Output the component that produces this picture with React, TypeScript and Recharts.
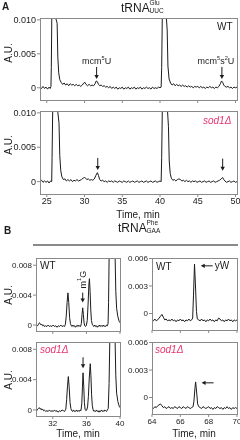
import React from 'react';
import { LineChart, Line, XAxis, YAxis, ReferenceDot } from 'recharts';

type Pt = [number, number];

// absorbance kept in A.U. x 1e-4 (so 50 = 0.005 A.U.), time in min
const gluTimeTicks = [25, 30, 35, 40, 45, 50];
const gluAuTicks = [0, 50, 100];
const pheTimeTicks = [32, 36, 40];
const pheAuTicks = [0, 40, 80];
const ywTimeTicks = [64, 66, 68, 70];
const ywAuTicks = [0, 30, 60];

// A, tRNA Glu UUC, wild type
const gluWT: Pt[] = [
  [24.1, 1], [24.3, -1], [24.5, 2], [24.7, -1], [24.9, 1], [25.1, -2], [25.3, 1], [25.45, -1], [25.55, 2],
  [25.6, 30], [25.66, 160], [25.9, 420], [26.2, 320], [26.37, 95], [26.46, 45], [26.58, 22], [26.72, 12],
  [26.9, 8], [27.1, 5], [27.3, 7], [27.5, 4], [27.7, 6], [27.9, 3], [28.1, 6], [28.3, 4], [28.5, 5], [28.7, 3],
  [28.9, 5], [29.1, 3], [29.3, 4], [29.5, 2], [29.7, 4], [29.9, 7], [30.05, 8], [30.2, 5], [30.4, 3], [30.6, 5],
  [30.8, 3], [31.0, 4], [31.2, 3], [31.4, 6], [31.55, 10], [31.7, 9], [31.85, 5], [32.0, 3], [32.2, 4], [32.4, 2],
  [32.6, 3], [32.8, 1], [33.0, 2], [33.2, 0], [33.4, 2], [33.6, -1], [33.8, 1], [34.0, -1], [34.2, 1], [34.4, -2],
  [34.6, 0], [34.8, -1], [35.0, 1], [35.2, -2], [35.4, 0], [35.6, -1], [35.8, 1], [36.0, -2], [36.2, 0], [36.4, -1],
  [36.6, 1], [36.8, -2], [37.0, 0], [37.2, -1], [37.4, 1], [37.6, -2], [37.8, 0], [38.0, -1], [38.2, 1], [38.4, -1],
  [38.6, 0], [38.8, -2], [39.0, 1], [39.2, -1], [39.4, 0], [39.6, -1], [39.8, 1], [40.0, 0], [40.15, 1],
  [40.22, 30], [40.3, 160], [40.6, 500], [40.85, 260], [40.95, 85], [41.05, 32], [41.2, 13], [41.4, 7],
  [41.6, 4], [41.8, 6], [42.0, 3], [42.2, 5], [42.4, 3], [42.6, 4], [42.8, 2], [43.0, 4], [43.2, 2], [43.4, 3],
  [43.6, 1], [43.8, 3], [44.0, 1], [44.2, 2], [44.4, 0], [44.6, 2], [44.8, 1], [45.0, 2], [45.2, 0], [45.4, 2],
  [45.6, 0], [45.8, 1], [46.0, -1], [46.2, 1], [46.4, 0], [46.6, 2], [46.8, 0], [47.0, 1], [47.2, -1], [47.4, 1],
  [47.6, 0], [47.8, 2], [48.0, 6], [48.15, 10], [48.3, 8], [48.45, 4], [48.6, 2], [48.8, 1], [49.0, 2], [49.2, 0],
  [49.4, 1], [49.6, -1], [49.8, 1], [50.0, 0], [50.2, 1],
];

// A, tRNA Glu UUC, sod1 deletion
const gluSod1: Pt[] = [
  [24.1, 0], [24.3, 2], [24.5, -1], [24.7, 1], [24.9, -1], [25.1, 1], [25.3, -2], [25.5, 1], [25.65, 0],
  [25.7, 35], [25.78, 160], [26.1, 450], [26.45, 300], [26.62, 85], [26.72, 38], [26.85, 16], [27.0, 7],
  [27.2, 3], [27.4, 4], [27.6, 1], [27.8, 3], [28.0, 1], [28.2, 3], [28.4, 0], [28.6, 2], [28.8, 1], [29.0, 3],
  [29.2, 1], [29.4, 2], [29.6, 3], [29.8, 5], [30.0, 6], [30.15, 5], [30.3, 3], [30.5, 4], [30.7, 2], [30.9, 3],
  [31.1, 2], [31.3, 4], [31.5, 9], [31.7, 13], [31.85, 9], [32.0, 3], [32.2, 1], [32.4, 2], [32.6, 0], [32.8, 1],
  [33.0, -1], [33.2, 1], [33.4, 0], [33.6, 1], [33.8, -1], [34.0, 1], [34.2, 0], [34.4, -1], [34.6, 1], [34.8, 0],
  [35.0, -1], [35.2, 1], [35.4, 0], [35.6, -1], [35.8, 1], [36.0, -1], [36.2, 0], [36.4, 1], [36.6, -1], [36.8, 0],
  [37.0, 1], [37.2, -1], [37.4, 0], [37.6, 1], [37.8, -1], [38.0, 0], [38.2, 1], [38.4, -1], [38.6, 0], [38.8, 1],
  [39.0, -1], [39.2, 0], [39.4, 1], [39.6, -1], [39.8, 0], [40.0, 1], [40.15, 0],
  [40.22, 35], [40.3, 160], [40.7, 500], [41.0, 250], [41.12, 80], [41.22, 30], [41.35, 12], [41.5, 5],
  [41.7, 2], [41.9, 3], [42.1, 1], [42.3, 3], [42.5, 4], [42.7, 3], [42.9, 1], [43.1, 2], [43.3, 0], [43.5, 2],
  [43.7, 0], [43.9, 1], [44.1, -1], [44.3, 1], [44.5, 0], [44.7, 1], [44.9, -1], [45.1, 0], [45.3, 1], [45.5, -1],
  [45.7, 0], [45.9, 1], [46.1, -1], [46.3, 0], [46.5, 1], [46.7, -1], [46.9, 0], [47.1, 1], [47.3, -1], [47.5, 0],
  [47.7, 1], [47.9, 2], [48.1, 4], [48.3, 6], [48.45, 3], [48.6, 1], [48.8, -1], [49.0, 0], [49.2, 1], [49.4, -1],
  [49.6, 0], [49.8, 1], [50.0, -1], [50.2, 0],
];

// B, tRNA Phe GAA, m1G window
const pheWT: Pt[] = [
  [30.0, -1], [30.1, 0], [30.2, -1], [30.3, 1], [30.4, 3], [30.5, 2], [30.6, 0], [30.7, 1], [30.8, -1], [30.9, 0],
  [31.0, -2], [31.15, -1], [31.3, -2], [31.45, 0], [31.6, -2], [31.75, -1], [31.9, -2], [32.05, 0], [32.2, -2],
  [32.35, -1], [32.5, -3], [32.65, -1], [32.8, -2], [32.95, 0], [33.1, -2], [33.25, -1], [33.4, -2], [33.5, 1],
  [33.6, 12], [33.7, 30], [33.8, 43], [33.9, 30], [34.0, 10], [34.1, 2], [34.2, -1], [34.3, -2], [34.4, 0],
  [34.5, -2], [34.6, -1], [34.7, -3], [34.8, -1], [34.9, -2], [35.0, 0], [35.1, -2], [35.2, -1], [35.3, -2],
  [35.4, 2], [35.48, 14], [35.56, 23], [35.64, 14], [35.72, 3], [35.8, -1], [35.9, -2], [36.0, 0], [36.1, 6],
  [36.2, 28], [36.3, 55], [36.36, 62], [36.44, 45], [36.52, 20], [36.6, 6], [36.7, 1], [36.8, -1], [36.9, -2],
  [37.0, 0], [37.1, -2], [37.2, -1], [37.3, -3], [37.4, -1], [37.5, -2], [37.6, 0], [37.7, -2], [37.8, -1],
  [37.9, -2], [38.0, 0], [38.1, -2], [38.2, -1], [38.3, -2], [38.4, 0], [38.5, -1], [38.58, 2], [38.64, 30],
  [38.7, 120], [39.0, 300], [39.3, 200], [39.42, 90], [39.5, 45], [39.6, 22], [39.75, 11], [39.9, 5], [40.0, 3],
];

const pheSod1: Pt[] = [
  [30.0, 0], [30.1, -1], [30.2, 1], [30.3, 2], [30.4, 3], [30.5, 1], [30.6, 2], [30.7, 0], [30.8, 1], [30.9, -1],
  [31.0, 0], [31.15, -2], [31.3, -1], [31.45, -2], [31.6, 0], [31.75, -2], [31.9, -1], [32.05, -2], [32.2, 0],
  [32.35, -2], [32.5, -1], [32.65, -3], [32.8, -1], [32.95, -2], [33.1, 0], [33.25, -1], [33.4, -2], [33.55, 1],
  [33.65, 14], [33.75, 32], [33.85, 44], [33.95, 30], [34.05, 10], [34.15, 2], [34.25, -1], [34.35, -2],
  [34.45, 0], [34.55, -2], [34.65, -1], [34.75, -2], [34.85, 0], [34.95, -2], [35.05, -1], [35.15, -2],
  [35.25, 0], [35.35, -1], [35.45, 8], [35.53, 30], [35.6, 49], [35.68, 32], [35.76, 10], [35.84, 1],
  [35.94, -1], [36.04, 0], [36.14, 4], [36.24, 18], [36.34, 42], [36.46, 61], [36.54, 45], [36.62, 20],
  [36.7, 6], [36.8, 0], [36.9, -2], [37.0, -1], [37.1, -2], [37.2, 0], [37.3, -2], [37.4, -1], [37.5, -3],
  [37.6, -1], [37.7, -2], [37.8, 0], [37.9, -2], [38.0, -1], [38.1, -2], [38.2, 0], [38.3, -1], [38.4, -2],
  [38.5, 0], [38.6, 2], [38.7, 35], [38.78, 130], [39.05, 300], [39.3, 200], [39.42, 90], [39.5, 45],
  [39.6, 22], [39.75, 11], [39.9, 5], [40.0, 3],
];

// B, tRNA Phe GAA, yW window
const ywWT: Pt[] = [
  [64.0, -7], [64.1, -8], [64.2, -6], [64.3, -8], [64.4, -7], [64.5, -5], [64.6, -3], [64.7, -1], [64.8, -4],
  [64.9, -7], [65.0, -6], [65.1, -8], [65.2, -7], [65.3, -8], [65.4, -6], [65.5, -8], [65.6, -7], [65.7, -9],
  [65.8, -7], [65.9, -8], [66.0, -6], [66.1, -8], [66.2, -7], [66.3, -9], [66.4, -7], [66.5, -8], [66.6, -6],
  [66.7, -8], [66.8, -7], [66.87, -5], [66.93, 20], [67.0, 54], [67.07, 30], [67.14, 2], [67.2, -6], [67.3, -7],
  [67.4, -8], [67.5, -6], [67.6, -8], [67.7, -7], [67.8, -9], [67.9, -7], [68.0, -8], [68.1, -6], [68.2, -8],
  [68.3, -7], [68.4, -9], [68.5, -7], [68.6, -8], [68.7, -5], [68.8, -6], [68.9, -8], [69.0, -7], [69.1, -9],
  [69.2, -7], [69.3, -8], [69.4, -6], [69.5, -8], [69.6, -7], [69.7, -9], [69.8, -7], [69.9, -8], [70.0, -7],
];

const ywSod1: Pt[] = [
  [64.0, -11], [64.1, -12], [64.2, -10], [64.3, -11], [64.4, -9], [64.5, -8], [64.6, -7], [64.7, -9], [64.8, -11],
  [64.9, -10], [65.0, -12], [65.1, -11], [65.2, -10], [65.3, -12], [65.4, -11], [65.5, -12], [65.6, -10],
  [65.7, -11], [65.8, -12], [65.9, -10], [66.0, -11], [66.1, -12], [66.2, -10], [66.3, -11], [66.4, -12],
  [66.5, -10], [66.6, -11], [66.7, -12], [66.8, -11], [66.9, -10], [66.96, -4], [67.03, 10], [67.08, 17],
  [67.15, 6], [67.22, -7], [67.3, -10], [67.4, -11], [67.5, -12], [67.6, -10], [67.7, -11], [67.8, -12],
  [67.9, -11], [68.0, -10], [68.1, -12], [68.2, -11], [68.3, -13], [68.4, -11], [68.5, -12], [68.6, -10],
  [68.7, -11], [68.8, -12], [68.9, -11], [69.0, -13], [69.1, -11], [69.2, -12], [69.3, -10], [69.4, -12],
  [69.5, -11], [69.6, -13], [69.7, -11], [69.8, -12], [69.9, -11], [70.0, -12],
];

const PINK = '#e8336d';
const INK = '#1b1b1b';
const FRAME = '#8a8a8a';

type Part = [string, boolean];

function supText(parts: Part[], size: number) {
  let up = false;
  return parts.map(([s, sup], i) => {
    const dy = sup && !up ? -size * 0.4 : !sup && up ? size * 0.4 : 0;
    up = sup;
    return (
      <tspan key={i} dy={dy} fontSize={sup ? size * 0.62 : size}>
        {s}
      </tspan>
    );
  });
}

function DownArrow({ cx, cy, parts, dx = 0, rotated = false, len = 12 }: any) {
  return (
    <g>
      <line x1={cx} y1={cy - len} x2={cx} y2={cy - 3} stroke={INK} strokeWidth={1} />
      <path d={`M${cx - 2.2},${cy - 4} L${cx + 2.2},${cy - 4} L${cx},${cy} Z`} fill={INK} />
      {parts && !rotated && (
        <text x={cx + dx} y={cy - len - 3} textAnchor="middle" fontSize={9} fill={INK}>
          {supText(parts, 9)}
        </text>
      )}
      {parts && rotated && (
        <text
          x={cx}
          y={cy - len - 13}
          transform={`rotate(-90 ${cx} ${cy - len - 13})`}
          textAnchor="middle"
          dominantBaseline="central"
          fontSize={9}
          fill={INK}
        >
          {supText(parts, 9)}
        </text>
      )}
    </g>
  );
}

function LeftArrow({ cx, cy, text }: any) {
  return (
    <g>
      <line x1={cx + 3} y1={cy} x2={cx + 12} y2={cy} stroke={INK} strokeWidth={1} />
      <path d={`M${cx + 4},${cy - 2.2} L${cx + 4},${cy + 2.2} L${cx},${cy} Z`} fill={INK} />
      {text && (
        <text x={cx + 14} y={cy} dominantBaseline="central" fontSize={10} fill={INK}>
          {text}
        </text>
      )}
    </g>
  );
}

const fmtAu = (v: number) => (v === 0 ? '0' : (v / 10000).toFixed(3));

interface TraceProps {
  pts: Pt[];
  left: number;
  top: number;
  width: number;
  height: number;
  mt: number;
  mr: number;
  yw: number;
  xh: number;
  xDomain: [number, number];
  yDomain: [number, number];
  xTicks: number[];
  yTicks: number[];
  xLabels: boolean;
  fs: number;
  children?: React.ReactNode;
}

function Trace(props: TraceProps) {
  const { pts, left, top, width, height, mt, mr, yw, xh, xDomain, yDomain, xTicks, yTicks, xLabels, fs, children } = props;
  // the big off-scale peaks are cut by the frame in the figure: hold them at the axis top
  const rows = pts.map(([t, v]) => ({ t, v: Math.min(v, yDomain[1]) }));
  const plotW = width - yw - mr;
  const plotH = height - mt - xh;
  return (
    <>
      <div style={{ position: 'absolute', left, top }}>
        <LineChart width={width} height={height} data={rows} margin={{ top: mt, right: mr, bottom: 0, left: 0 }}>
          <XAxis
            dataKey="t"
            type="number"
            domain={xDomain}
            ticks={xTicks}
            interval={0}
            height={xh}
            axisLine={false}
            tickLine={{ stroke: FRAME }}
            tickSize={3}
            tickMargin={1}
            tick={{ fontSize: fs, fill: '#222' }}
            tickFormatter={(v: number) => (xLabels ? String(v) : '')}
          />
          <YAxis
            type="number"
            domain={yDomain}
            ticks={yTicks}
            interval={0}
            width={yw}
            axisLine={false}
            tickLine={{ stroke: FRAME }}
            tickSize={3}
            tickMargin={1}
            tick={{ fontSize: fs, fill: '#222' }}
            tickFormatter={fmtAu}
          />
          <Line dataKey="v" type="linear" stroke={INK} strokeWidth={1} dot={false} isAnimationActive={false} />
          {children}
        </LineChart>
      </div>
      <div
        style={{
          position: 'absolute',
          left: left + yw - 0.5,
          top: top + mt - 0.5,
          width: plotW + 1,
          height: plotH + 1,
          border: `1px solid ${FRAME}`,
          boxSizing: 'border-box',
          pointerEvents: 'none',
        }}
      />
    </>
  );
}

function Title({ left, top, sup, sub }: { left: number; top: number; sup: string; sub: string }) {
  return (
    <div style={{ position: 'absolute', left, top, height: 16, fontSize: 12, lineHeight: '12px' }}>
      <span style={{ position: 'absolute', left: 0, top: 2 }}>tRNA</span>
      <span style={{ position: 'absolute', left: 28.5, top: 0, fontSize: 6.5, lineHeight: '6.5px' }}>{sup}</span>
      <span style={{ position: 'absolute', left: 28.5, top: 8, fontSize: 6.5, lineHeight: '6.5px' }}>{sub}</span>
    </div>
  );
}

function Txt({ left, top, children, style }: any) {
  return <div style={{ position: 'absolute', left, top, fontSize: 10, lineHeight: '10px', whiteSpace: 'nowrap', ...style }}>{children}</div>;
}

function AU({ cx, cy }: { cx: number; cy: number }) {
  return (
    <div style={{ position: 'absolute', left: cx, top: cy, fontSize: 10, lineHeight: '10px', transform: 'translate(-50%, -50%) rotate(-90deg)', whiteSpace: 'nowrap' }}>
      A.U.
    </div>
  );
}

function Centered({ cx, top, children }: any) {
  return (
    <div style={{ position: 'absolute', left: cx, top, fontSize: 10, lineHeight: '10px', transform: 'translateX(-50%)', whiteSpace: 'nowrap' }}>
      {children}
    </div>
  );
}

const sod1 = <span style={{ color: PINK, fontStyle: 'italic' }}>sod1Δ</span>;

export default function App() {
  const gluX: [number, number] = [24.1, 50.2];
  const gluY: [number, number] = [-18, 102];
  const pheX: [number, number] = [30, 40];
  const pheY: [number, number] = [-8, 89];
  const ywX: [number, number] = [64, 70];
  const ywY: [number, number] = [-18, 60];

  return (
    <div
      style={{
        position: 'fixed',
        left: 0,
        top: 0,
        width: 240,
        height: 440,
        background: '#fff',
        color: '#1b1b1b',
        fontFamily: '"Liberation Sans", Arial, sans-serif',
      }}
    >
      <Txt left={2} top={2} style={{ fontWeight: 'bold', fontSize: 10 }}>A</Txt>
      <Title left={121} top={0} sup="Glu" sub="UUC" />

      <Trace pts={gluWT} left={0} top={0} width={240} height={110} mt={18.5} mr={3} yw={40} xh={10}
        xDomain={gluX} yDomain={gluY} xTicks={gluTimeTicks} yTicks={gluAuTicks} xLabels={false} fs={9}>
        <ReferenceDot x={31.6} y={13} r={0} shape={(p: any) => <DownArrow cx={p.cx} cy={p.cy} parts={[['mcm', false], ['5', true], ['U', false]]} />} />
        <ReferenceDot x={48.2} y={13} r={0} shape={(p: any) => <DownArrow cx={p.cx} cy={p.cy} dx={-6} parts={[['mcm', false], ['5', true], ['s', false], ['2', true], ['U', false]]} />} />
      </Trace>
      <Trace pts={gluSod1} left={0} top={100} width={240} height={110} mt={11.5} mr={3} yw={40} xh={16}
        xDomain={gluX} yDomain={gluY} xTicks={gluTimeTicks} yTicks={gluAuTicks} xLabels fs={9}>
        <ReferenceDot x={31.75} y={17} r={0} shape={(p: any) => <DownArrow cx={p.cx} cy={p.cy} />} />
        <ReferenceDot x={48.3} y={16} r={0} shape={(p: any) => <DownArrow cx={p.cx} cy={p.cy} />} />
      </Trace>
      <Txt left={217} top={22}>WT</Txt>
      <Txt left={203} top={116}>{sod1}</Txt>
      <AU cx={9} cy={53} />
      <AU cx={9} cy={145} />
      <Centered cx={138} top={210}>Time, min</Centered>

      <Txt left={4} top={226} style={{ fontWeight: 'bold', fontSize: 10 }}>B</Txt>
      <Title left={118} top={220} sup="Phe" sub="GAA" />
      <div style={{ position: 'absolute', left: 33, top: 244, width: 205, height: 1.5, background: FRAME }} />

      <Trace pts={pheWT} left={0} top={250} width={128} height={84} mt={8.5} mr={8} yw={36} xh={3}
        xDomain={pheX} yDomain={pheY} xTicks={pheTimeTicks} yTicks={pheAuTicks} xLabels={false} fs={8}>
        <ReferenceDot x={35.56} y={30} r={0} shape={(p: any) => <DownArrow cx={p.cx} cy={p.cy} len={10} rotated parts={[['m', false], ['1', true], ['G', false]]} />} />
      </Trace>
      <Trace pts={pheSod1} left={0} top={334} width={128} height={96} mt={8.5} mr={8} yw={36} xh={14}
        xDomain={pheX} yDomain={pheY} xTicks={pheTimeTicks} yTicks={pheAuTicks} xLabels fs={8}>
        <ReferenceDot x={35.6} y={55} r={0} shape={(p: any) => <DownArrow cx={p.cx} cy={p.cy} len={11} />} />
      </Trace>
      <Trace pts={ywWT} left={120} top={250} width={120} height={84} mt={8.5} mr={3} yw={32} xh={4}
        xDomain={ywX} yDomain={ywY} xTicks={ywTimeTicks} yTicks={ywAuTicks} xLabels={false} fs={8}>
        <ReferenceDot x={67.44} y={52} r={0} shape={(p: any) => <LeftArrow cx={p.cx} cy={p.cy} text="yW" />} />
      </Trace>
      <Trace pts={ywSod1} left={120} top={334} width={120} height={94} mt={8.5} mr={3} yw={32} xh={14}
        xDomain={ywX} yDomain={ywY} xTicks={ywTimeTicks} yTicks={ywAuTicks} xLabels fs={8}>
        <ReferenceDot x={67.5} y={16} r={0} shape={(p: any) => <LeftArrow cx={p.cx} cy={p.cy} />} />
      </Trace>
      <Txt left={40} top={261}>WT</Txt>
      <Txt left={40} top={345}>{sod1}</Txt>
      <Txt left={156} top={262}>WT</Txt>
      <Txt left={155} top={345}>{sod1}</Txt>
      <AU cx={9} cy={295} />
      <AU cx={9} cy={380} />
      <Centered cx={78} top={429}>Time, min</Centered>
      <Centered cx={194} top={429}>Time, min</Centered>
    </div>
  );
}
